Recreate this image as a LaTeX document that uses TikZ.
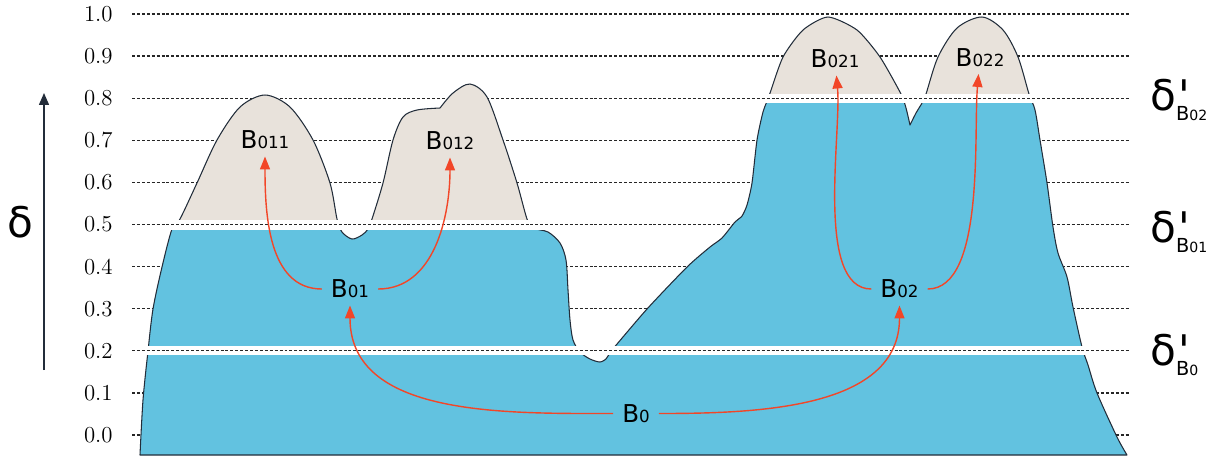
\documentclass[tikz,border=0pt]{standalone}
\usepackage{fontspec}
\newfontfamily\lbl{DejaVu Sans}
\usetikzlibrary{arrows.meta}
\definecolor{lowblue}{RGB}{98,194,224}
\definecolor{peakgrey}{RGB}{232,226,219}
\definecolor{rimdark}{RGB}{35,45,58}
\definecolor{flowred}{RGB}{242,70,40}
\newcommand{\bsub}[1]{B{\fontsize{9.5}{10}\selectfont #1}}
\newcommand{\dprime}[1]{δ\rlap{\hspace{1.5pt}'}\raisebox{-5.7pt}{\fontsize{11}{11}\selectfont B\fontsize{8}{8}\selectfont #1}}
\newcommand{\terrain}{
  plot[smooth] coordinates {(140,455) (143,400) (148,351) (153,309) (162,267) (172,229) (180,219) (197,183) (217,140) (240,107) (265,95) (290,107) (313,140) (330,183) (337,219) (342,232) (352,239) (362,235) (368,229) (372,219) (383,183) (393,140) (403,117) (417,110) (440,108)}
  -- plot[smooth] coordinates {(440,108) (453,93) (470,84) (487,97) (503,140) (517,183) (527,219) (533,228) (548,232) (560,243) (566,260) (568,290) (570,320) (573,340) (580,352) (590,359) (600,362) (606,359)}
  -- (612,350) -- plot[smooth,tension=0.4] coordinates {(612,350) (647,309) (687,267) (710,247) (722,238) (735,222) (742,216) (747,205) (752,183) (757,140) (763,112) (769,96) (783,57) (803,30) (828,17) (857,30) (880,57) (901,94) (906,108) (910,125)}
  -- plot[smooth] coordinates {(910,125) (916,113) (922,103) (926,94) (938,57) (957,28) (982,17) (1003,30) (1018,57) (1029,94) (1035,110) (1040,140) (1047,183) (1053,227) (1058,253) (1067,277) (1073,307) (1082,347) (1088,365) (1097,393) (1117,437) (1127,455)}
  -- cycle}
\tikzset{
  blob/.style={font=\lbl\fontsize{14}{16}\selectfont,inner sep=3pt},
  bigdelta/.style={font=\lbl\fontsize{24}{26}\selectfont,inner sep=0pt},
  ticklab/.style={anchor=east,font=\fontsize{13}{14}\selectfont,inner sep=0pt},
  gridline/.style={draw=black!85,line width=0.7pt,dash pattern=on 1.7pt off 1.1pt},
  rim/.style={draw=rimdark,line width=0.6pt,line join=round},
  flow/.style={draw=flowred,line width=0.8pt,-{Triangle[length=7.4pt,width=5.7pt]},shorten <=2pt,shorten >=1pt},
  axisarrow/.style={draw=rimdark,line width=0.75pt,-{Triangle[length=6.8pt,width=5.7pt]}},
}
\begin{document}
\begin{tikzpicture}[x=0.02cm,y=-0.02cm]
\useasboundingbox (0,0) rectangle (1230,458);

% levels
\foreach \k/\t in {0/0.0,1/0.1,2/0.2,3/0.3,4/0.4,5/0.5,6/0.6,7/0.7,8/0.8,9/0.9,10/1.0}{
  \node[ticklab] (t\k) at (113,{435-42.1*\k}) {\t};
  \draw[gridline] (132,{435-42.1*\k}) -- (1130,{435-42.1*\k});
}

% terrain
\fill[lowblue] \terrain;
\begin{scope}
  \clip (100,0) rectangle (620,224);
  \fill[peakgrey] \terrain;
\end{scope}
\begin{scope}
  \clip (700,0) rectangle (1100,98.5);
  \fill[peakgrey] \terrain;
\end{scope}
\draw[rim] \terrain;

% cuts at the thresholds
\foreach \k/\xa/\xb/\hw in {2/130/1095/4.5,5/150/600/5,8/740/1050/4.5}{
  \fill[white] (\xa,{435-42.1*\k-\hw}) rectangle (\xb,{435-42.1*\k+\hw});
  \begin{scope}
    \clip (\xa,{435-42.1*\k-\hw}) rectangle (\xb,{435-42.1*\k+\hw});
    \draw[gridline] (132,{435-42.1*\k}) -- (1130,{435-42.1*\k});
  \end{scope}
}

% axis
\coordinate (axlo) at (44,370);
\coordinate (axhi) at (44,93);
\draw[axisarrow] (axlo) -- (axhi);
\node[bigdelta,anchor=base] (dl) at (20,237) {δ};

% regions
\node[blob] (b0) at (636,413.5) {\bsub{0}};
\node[blob] (b01) at (350,289) {\bsub{01}};
\node[blob] (b02) at (899.5,289) {\bsub{02}};
\node[blob] (b011) at (265,140) {\bsub{011}};
\node[blob] (b012) at (450,141) {\bsub{012}};
\node[blob] (b021) at (835,59) {\bsub{021}};
\node[blob] (b022) at (980,57.5) {\bsub{022}};

\path
(b0) edge[flow,out=180,in=-90] (b01)
(b0) edge[flow,out=0,in=-90] (b02)
(b01) edge[flow,out=180,in=-90] (b011)
(b01) edge[flow,out=0,in=-90] (b012)
(b02) edge[flow,out=180,in=-85,looseness=0.7] (b021)
(b02) edge[flow,out=0,in=-95,looseness=0.7] (b022);

% thresholds
\node[bigdelta,anchor=base west] (d02) at (1150,110) {\dprime{02}};
\node[bigdelta,anchor=base west] (d01) at (1150,242) {\dprime{01}};
\node[bigdelta,anchor=base west] (d0) at (1150,365) {\dprime{0}};

\end{tikzpicture}
\end{document}
